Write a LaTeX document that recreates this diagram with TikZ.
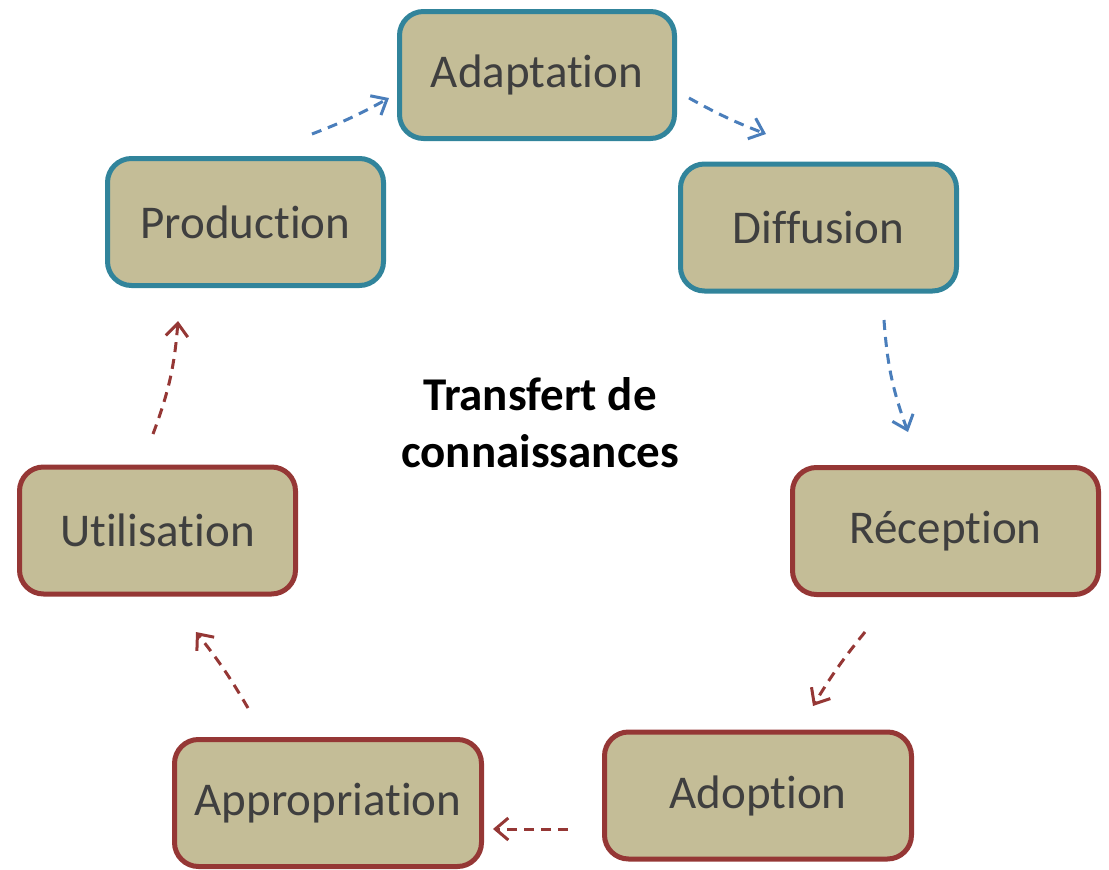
\documentclass[tikz,border=0pt]{standalone}
\usepackage{fontspec}
\setmainfont{Carlito}[Ligatures={NoCommon,NoRare,NoDiscretionary}]
\usetikzlibrary{arrows.meta}
\definecolor{boxfill}{HTML}{C4BD97}
\definecolor{tealedge}{HTML}{31849B}
\definecolor{rededge}{HTML}{953735}
\definecolor{bluearrow}{HTML}{4A7EBB}
\definecolor{redarrow}{HTML}{953735}
\definecolor{boxtext}{HTML}{3F3F3F}
\begin{document}
\begin{tikzpicture}[x=1pt,y=-1pt,
  stage/.style={draw, fill=boxfill, line width=5pt, rounded corners=24pt,
    minimum height=127pt, text=boxtext, font=\fontsize{47}{56}\selectfont,
    inner sep=0pt},
  upper/.style={stage, draw=tealedge},
  lower/.style={stage, draw=rededge},
  flow/.style={line width=3pt, dash pattern=on 10pt off 7pt,
    -{Straight Barb[length=13pt,width=22pt,line width=3pt]}},
  blueflow/.style={flow, draw=bluearrow},
  redflow/.style={flow, draw=redarrow}]
\useasboundingbox (0,0) rectangle (1109,870);

% stages of the cycle
\node[upper, minimum width=275pt] (adapt) at (537,75) {Adaptation};
\node[upper, minimum width=276pt] (prod)  at (245.5,222) {Production};
\node[upper, minimum width=276pt] (diff)  at (818.5,227.5) {Diffusion};
\node[lower, minimum width=306pt] (recep) at (945.5,531) {Réception};
\node[lower, minimum width=276pt] (util)  at (157.5,530.5) {Utilisation};
\node[lower, minimum width=307pt] (adopt) at (758,795.5) {Adoption};
\node[lower, minimum width=307pt] (appro) at (328,803) {Appropriation};

% centre title
\node[font=\bfseries\fontsize{47}{57}\selectfont, align=center] (title)
  at (540,423) {Transfert de\\connaissances};

% arrow end points
\coordinate (a1) at (312,134);  \coordinate (b1) at (389,98);
\coordinate (a2) at (689,98);   \coordinate (b2) at (766,134);
\coordinate (a3) at (884,320);  \coordinate (b3) at (908,432);
\coordinate (a4) at (865,632);  \coordinate (b4) at (813,706);
\coordinate (a5) at (568,829);  \coordinate (b5) at (493,829);
\coordinate (a6) at (248,708);  \coordinate (b6) at (196,632);
\coordinate (a7) at (153,434);  \coordinate (b7) at (178,321);

% cycle connectors
\draw[blueflow] (a1) to[bend right=4] (b1);
\draw[blueflow] (a2) to[bend right=4] (b2);
\draw[blueflow] (a3) to[bend right=8] (b3);
\draw[redflow]  (a4) to[bend right=4] (b4);
\draw[redflow]  (a5) to (b5);
\draw[redflow]  (a6) to[bend right=4] (b6);
\draw[redflow]  (a7) to[bend right=8] (b7);
\end{tikzpicture}
\end{document}
